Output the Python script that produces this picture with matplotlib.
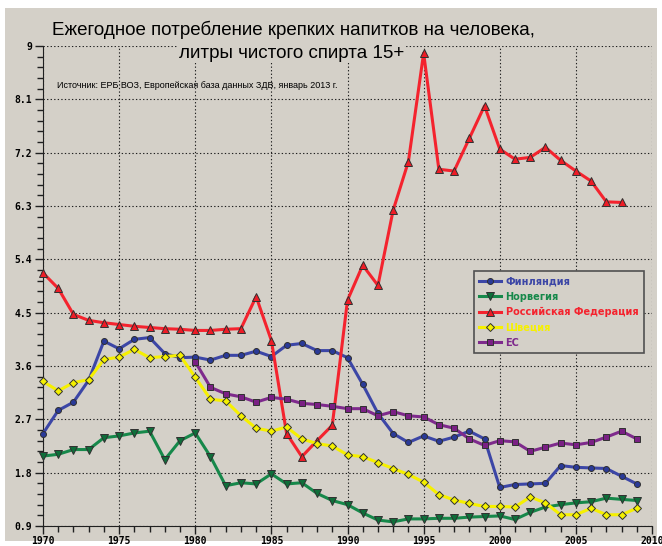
import numpy as np
import matplotlib.pyplot as plt
from matplotlib.patches import Rectangle
from matplotlib.ticker import MultipleLocator, FixedLocator

# годы
years = list(range(1970, 2010))

finland = [2.46, 2.85, 2.99, 3.36, 4.02, 3.89, 4.05, 4.08, 3.81, 3.74,
           3.75, 3.70, 3.78, 3.78, 3.85, 3.76, 3.95, 3.98, 3.86, 3.86,
           3.74, 3.29, 2.80, 2.46, 2.31, 2.42, 2.33, 2.40, 2.50, 2.37,
           1.55, 1.60, 1.61, 1.62, 1.92, 1.89, 1.88, 1.87, 1.74, 1.61]

norway = [2.08, 2.11, 2.19, 2.19, 2.39, 2.42, 2.47, 2.50, 2.02, 2.34,
          2.47, 2.07, 1.58, 1.63, 1.61, 1.78, 1.61, 1.63, 1.45, 1.33,
          1.26, 1.12, 1.00, 0.97, 1.02, 1.02, 1.03, 1.03, 1.05, 1.06,
          1.07, 1.01, 1.13, 1.22, 1.26, 1.29, 1.31, 1.37, 1.35, 1.33]

russia_years = list(range(1970, 2009))
russia = [5.17, 4.91, 4.47, 4.37, 4.33, 4.30, 4.27, 4.25, 4.23, 4.22,
          4.20, 4.20, 4.22, 4.23, 4.77, 4.03, 2.46, 2.07, 2.34, 2.60,
          4.71, 5.30, 4.96, 6.23, 7.05, 8.88, 6.92, 6.89, 7.44, 7.99,
          7.26, 7.09, 7.12, 7.29, 7.07, 6.89, 6.72, 6.37, 6.36]

sweden = [3.34, 3.18, 3.32, 3.37, 3.71, 3.75, 3.88, 3.74, 3.76, 3.78,
          3.41, 3.04, 3.01, 2.76, 2.55, 2.50, 2.57, 2.37, 2.29, 2.25,
          2.10, 2.07, 1.97, 1.87, 1.77, 1.64, 1.43, 1.34, 1.28, 1.23,
          1.23, 1.22, 1.39, 1.29, 1.09, 1.09, 1.20, 1.09, 1.09, 1.20]

eu_years = list(range(1980, 2010))
eu = [3.67, 3.24, 3.13, 3.08, 2.99, 3.07, 3.04, 2.97, 2.95, 2.92,
      2.88, 2.88, 2.76, 2.83, 2.76, 2.74, 2.61, 2.55, 2.37, 2.26,
      2.34, 2.32, 2.16, 2.23, 2.30, 2.27, 2.31, 2.40, 2.50, 2.37]

names = ['Финляндия', 'Норвегия', 'Российская Федерация', 'Швеция', 'ЕС']
colors = ['#3c46a6', '#16884a', '#f4232e', '#f6f000', '#7e2a8c']
face = ['#2a3a98', '#0f6e3a', '#ee1c26', '#f4f000', '#7a2084']
markers = ['o', 'v', '^', 'D', 's']
msizes = [4.3, 6, 6, 4.5, 4.8]

bg = '#d4d0c8'

fig = plt.figure(figsize=(6.62, 5.46), dpi=100, facecolor='white')
fig.patches.append(Rectangle((5 / 662, 5 / 546), 652 / 662, 533 / 546,
                             transform=fig.transFigure, facecolor=bg,
                             edgecolor='none', zorder=-10))

ax = fig.add_axes([43 / 662, 20 / 546, 609 / 662, 480 / 546])
ax.set_zorder(2)
ax.set_facecolor(bg)

series = [(years, finland), (years, norway), (russia_years, russia),
          (years, sweden), (eu_years, eu)]
for i in range(5):
    xs, ys = series[i]
    ax.plot(xs, ys, color=colors[i], lw=2.2, marker=markers[i],
            markersize=msizes[i], markerfacecolor=face[i],
            markeredgecolor='#303030', markeredgewidth=0.7,
            label=names[i], zorder=3 + i, clip_on=False)

ax.set_xlim(1970, 2010)
ax.set_ylim(0.9, 9)
ax.xaxis.set_major_locator(MultipleLocator(5))
ax.xaxis.set_minor_locator(MultipleLocator(1))
ax.yaxis.set_major_locator(FixedLocator(np.arange(0.9, 9.01, 0.9)))
ax.yaxis.set_minor_locator(FixedLocator(np.arange(0.9, 9.01, 0.18)))
ax.set_yticklabels(['0.9', '1.8', '2.7', '3.6', '4.5', '5.4', '6.3', '7.2', '8.1', '9'])

for lab in ax.get_xticklabels() + ax.get_yticklabels():
    lab.set_fontfamily('DejaVu Sans Mono')
    lab.set_fontweight('bold')
    lab.set_fontsize(7)

ax.tick_params(axis='both', which='major', length=6, width=1, color='#202020', pad=2)
ax.tick_params(axis='x', which='major', pad=1)
ax.tick_params(axis='both', which='minor', length=4, width=1, color='#202020')
ax.grid(True, which='major', color='#202020', linestyle=(0, (1.2, 2)), lw=0.8)
ax.spines['top'].set_visible(False)
ax.spines['right'].set_visible(False)
ax.spines['left'].set_color('#202020')
ax.spines['bottom'].set_color('#202020')

fig.text(293 / 662, 1 - 30 / 546, 'Ежегодное потребление крепких напитков на человека,',
         ha='center', va='center', fontsize=13.5, family='Liberation Sans', zorder=5)
fig.text(292 / 662, 1 - 53 / 546, 'литры чистого спирта 15+',
         ha='center', va='center', fontsize=13.5, family='Liberation Sans', zorder=5,
         bbox=dict(facecolor=bg, edgecolor='none', pad=1))
fig.text(57 / 662, 1 - 86 / 546,
         'Источник: ЕРБ ВОЗ, Европейская база данных ЗДВ, январь 2013 г.',
         ha='left', va='center', fontsize=6.5, family='Liberation Sans', zorder=5)

leg = ax.legend(loc='upper left', bbox_to_anchor=((474 - 43) / 609, (526 - 271) / 480),
                prop={'family': 'DejaVu Sans', 'weight': 'bold', 'size': 7},
                frameon=True, fancybox=False, handlelength=2.2, labelspacing=0.55,
                borderpad=0.55, handletextpad=0.5, borderaxespad=0)
leg.get_frame().set_facecolor(bg)
leg.get_frame().set_edgecolor('#505050')
leg.get_frame().set_linewidth(1.2)
leg.get_frame().set_alpha(1)
leg.set_zorder(20)
for t, c in zip(leg.get_texts(), colors):
    t.set_color(c)

fig.savefig('out.png', dpi=100, facecolor='white')
